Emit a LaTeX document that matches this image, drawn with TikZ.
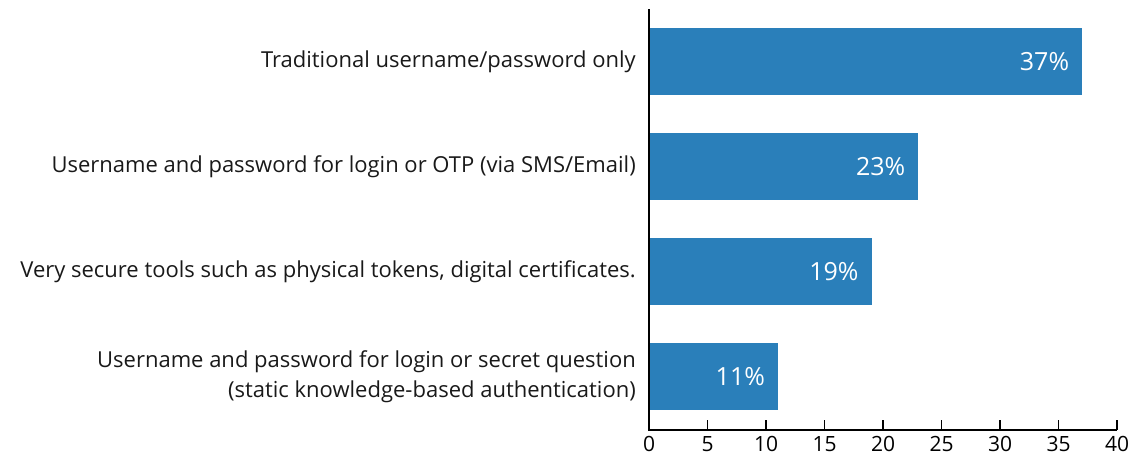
\documentclass[tikz,border=0pt]{standalone}
\usepackage{fontspec}
\setmainfont{Open Sans}
\usetikzlibrary{positioning}
\definecolor{barblue}{HTML}{2A7FBA}

\begin{document}
\begin{tikzpicture}[x=1pt,y=-1pt,font=\fontsize{22}{30}\selectfont]
                \tikzstyle{bar}=[fill=barblue,draw=none,inner sep=0pt,minimum height=67pt,anchor=west]
                \tikzstyle{pct}=[text=white,anchor=east,inner sep=0pt,font=\fontsize{25}{30}\selectfont]
                \tikzstyle{cat}=[text=black!90,align=right,inner sep=0pt]
                \tikzstyle{axis}=[line width=1.6pt,black]
                
                \useasboundingbox (0,0) rectangle (1134,458);
                
                \coordinate (o) at (649,430);
                \coordinate (top) at (649,9);
                \coordinate (end) at (1117,430);
                
                \node[bar,minimum width=432.9pt] (b_1) at (649,61.5) {};
                \node[bar,minimum width=269.1pt] (b_2) at (649,166.5) {};
                \node[bar,minimum width=222.3pt] (b_3) at (649,271.5) {};
                \node[bar,minimum width=128.7pt] (b_4) at (649,376.5) {};
                
                \node[pct] (b_1-v) at ([xshift=-13pt]b_1.east) {37\%};
                \node[pct] (b_2-v) at ([xshift=-13pt]b_2.east) {23\%};
                \node[pct] (b_3-v) at ([xshift=-13pt]b_3.east) {19\%};
                \node[pct] (b_4-v) at ([xshift=-13pt]b_4.east) {11\%};
                
                \node[cat,left=13pt of b_1.west] (b_1-cl) {Traditional username/password only};
                \node[cat,left=13pt of b_2.west] (b_2-cl) {Username and password for login or OTP (via SMS/Email)};
                \node[cat,left=13pt of b_3.west] (b_3-cl) {Very secure tools such as physical tokens, digital certificates.};
                \node[cat,left=13pt of b_4.west] (b_4-cl) {Username and password for login or secret question\\(static knowledge-based authentication)};
                
                \draw[axis] (top) -- (o) -- (end);
                \foreach \t [count=\i from 0] in {0,5,...,40}
                {
                  \draw[axis] ([xshift=\i*58.5pt]o) -- ++(0,-10);
                  \node[inner sep=0pt,font=\fontsize{21}{25}\selectfont] (tick-\t) at ([xshift=\i*58.5pt,yshift=-14pt]o) {\t};
                }
\end{tikzpicture}
\end{document}
